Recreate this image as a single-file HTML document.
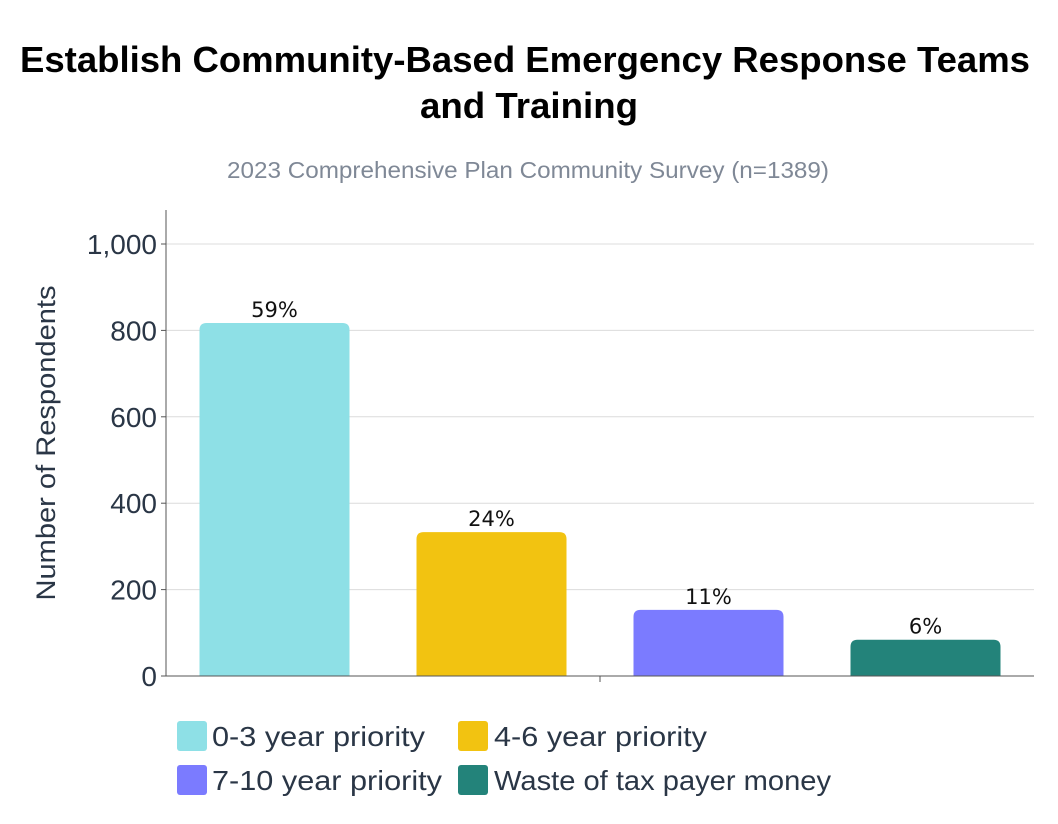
<!DOCTYPE html>
<html><head><meta charset="utf-8"><style>
body{margin:0;background:#fff;width:1058px;height:819px;overflow:hidden;font-family:"Liberation Sans",sans-serif}
</style></head><body>
<svg id="chart" width="1058" height="819" xmlns="http://www.w3.org/2000/svg">
<text x="525" y="72" text-anchor="middle" font-size="36" font-weight="bold" fill="#000" textLength="1010" lengthAdjust="spacingAndGlyphs">Establish Community-Based Emergency Response Teams</text>
<text x="529" y="118" text-anchor="middle" font-size="36" font-weight="bold" fill="#000" textLength="218" lengthAdjust="spacingAndGlyphs">and Training</text>
<text x="528" y="178" text-anchor="middle" font-size="23" fill="#7f8896" textLength="602" lengthAdjust="spacingAndGlyphs">2023 Comprehensive Plan Community Survey (n=1389)</text>
<text transform="translate(55,443) rotate(-90)" text-anchor="middle" font-size="27" fill="#2a3646" textLength="315" lengthAdjust="spacingAndGlyphs">Number of Respondents</text>
<g id="grid"></g><g id="bars"></g>
<line x1="166" y1="210" x2="166" y2="676" stroke="#555" stroke-width="1"/>
<line x1="166" y1="676" x2="1034" y2="676" stroke="#555" stroke-width="1"/>
<line x1="600" y1="676" x2="600" y2="682" stroke="#555"/>
<g font-size="28" fill="#2a3646">
<rect x="177" y="721" width="30" height="30" rx="3" fill="#8ee0e6"/>
<text x="212" y="746" textLength="213" lengthAdjust="spacingAndGlyphs">0-3 year priority</text>
<rect x="458" y="721" width="30" height="30" rx="3" fill="#f2c311"/>
<text x="494" y="746" textLength="213" lengthAdjust="spacingAndGlyphs">4-6 year priority</text>
<rect x="177" y="765" width="30" height="30" rx="3" fill="#7b7bff"/>
<text x="212" y="790" textLength="230" lengthAdjust="spacingAndGlyphs">7-10 year priority</text>
<rect x="458" y="765" width="30" height="30" rx="3" fill="#23837a"/>
<text x="494" y="790" textLength="337" lengthAdjust="spacingAndGlyphs">Waste of tax payer money</text>
</g>
</svg>
<script>
const categories=["0-3 year priority","4-6 year priority","7-10 year priority","Waste of tax payer money"];
const values=[817,333,153,84];
const pctLabels=["59%","24%","11%","6%"];
const colors=["#8ee0e6","#f2c311","#7b7bff","#23837a"];
const yTicks=[0,200,400,600,800,1000];
const yTickLabels=["0","200","400","600","800","1,000"];
const NS="http://www.w3.org/2000/svg";
const x0=166,x1=1034,y0=676,yScale=v=>y0-v*0.432;
const band=(x1-x0)/categories.length,bw=150;
const grid=document.getElementById('grid'),bars=document.getElementById('bars');
yTicks.forEach((t,i)=>{
 const y=yScale(t);
 if(t>0){const l=document.createElementNS(NS,'line');
 
 
 l.setAttribute('x1',x0);l.setAttribute('x2',x1);l.setAttribute('y1',y);l.setAttribute('y2',y);l.setAttribute('stroke','#dcdcdc');grid.appendChild(l);}
 const tk=document.createElementNS(NS,'line');
 
 
 tk.setAttribute('x1',161);tk.setAttribute('x2',166);tk.setAttribute('y1',y);tk.setAttribute('y2',y);tk.setAttribute('stroke','#555');grid.appendChild(tk);
 const tx=document.createElementNS(NS,'text');
 
 
 tx.setAttribute('x',157);tx.setAttribute('y',y+10);tx.setAttribute('text-anchor','end');tx.setAttribute('font-size','28');tx.setAttribute('fill','#2a3646');tx.textContent=yTickLabels[i];grid.appendChild(tx);
});
values.forEach((v,i)=>{
 const cx=x0+band*(i+0.5),top=yScale(v),h=y0-top,x=cx-bw/2,r=7;
 const p=document.createElementNS(NS,'path');
 
 
 p.setAttribute('d',`M${x},${y0}V${top+r}Q${x},${top} ${x+r},${top}H${x+bw-r}Q${x+bw},${top} ${x+bw},${top+r}V${y0}Z`);
 p.setAttribute('fill',colors[i]);bars.appendChild(p);
 const t=document.createElementNS(NS,'text');
 
 
 t.setAttribute('x',cx);t.setAttribute('y',top-6);t.setAttribute('text-anchor','middle');t.setAttribute('font-size','21');t.setAttribute('font-family','"DejaVu Sans",sans-serif');t.setAttribute('fill','#111');t.textContent=pctLabels[i];bars.appendChild(t);
});
</script>
</body></html>
